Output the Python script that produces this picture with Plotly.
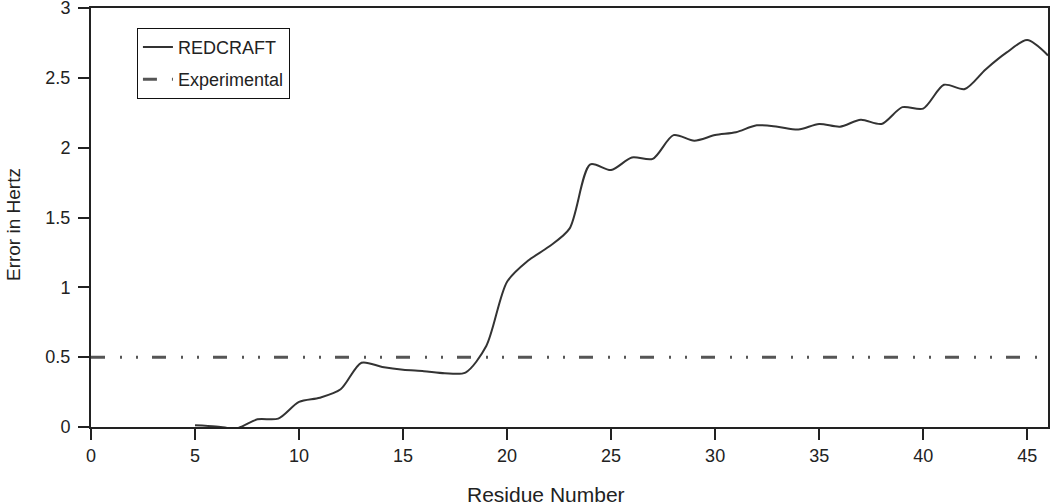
import plotly.graph_objects as go

# Data
residues = [5, 6, 7, 8, 9, 10, 11, 12, 13, 14, 15, 16, 17, 18, 19, 20, 21, 22, 23,
            24, 25, 26, 27, 28, 29, 30, 31, 32, 33, 34, 35, 36, 37, 38, 39, 40, 41,
            42, 43, 44, 45, 46]
redcraft_error = [0.012, 0.004, -0.01, 0.055, 0.06, 0.18, 0.21, 0.27, 0.46, 0.43,
                  0.41, 0.40, 0.385, 0.39, 0.58, 1.04, 1.19, 1.29, 1.42, 1.88, 1.84,
                  1.93, 1.92, 2.09, 2.05, 2.09, 2.11, 2.16, 2.15, 2.13, 2.17, 2.15,
                  2.20, 2.17, 2.29, 2.28, 2.45, 2.42, 2.56, 2.68, 2.77, 2.66]
experimental_x = [0, 46]
experimental_y = [0.5, 0.5]

x_ticks = [0, 5, 10, 15, 20, 25, 30, 35, 40, 45]
y_ticks = [0, 0.5, 1, 1.5, 2, 2.5, 3]

FONT = "Liberation Sans, Arial, sans-serif"
INK = "#222222"

fig = go.Figure()
fig.add_trace(go.Scatter(
    x=residues, y=redcraft_error, name="REDCRAFT", mode="lines",
    legendgroup="a",
    line=dict(color="#333333", width=2, shape="spline", smoothing=0.8),
))
fig.add_trace(go.Scatter(
    x=experimental_x, y=experimental_y, name="Experimental", mode="lines",
    legendgroup="b",
    line=dict(color="#555555", width=3, dash="14px,15px,2px,14px,2px,14px"),
))

fig.update_layout(
    width=1050, height=502,
    margin=dict(l=91, r=2, t=8, b=75),
    paper_bgcolor="white", plot_bgcolor="white",
    font=dict(family=FONT, size=18, color=INK),
    showlegend=True,
    legend=dict(
        x=0.048, y=0.953, xanchor="left", yanchor="top",
        bgcolor="white", bordercolor="#111111", borderwidth=1,
        font=dict(family=FONT, size=18, color=INK),
        itemwidth=30, tracegroupgap=6, traceorder="grouped",
    ),
    xaxis=dict(
        range=[0, 46], tickvals=x_ticks, ticks="outside", ticklen=11,
        tickwidth=1.5, tickcolor=INK, showline=True, linecolor=INK,
        linewidth=2, mirror=True, showgrid=False, zeroline=False,
        automargin=False, ticklabeloverflow="allow",
        tickfont=dict(size=18, family=FONT, color=INK),
    ),
    yaxis=dict(
        range=[0, 3], tickvals=y_ticks, ticks="outside", ticklen=11,
        tickwidth=1.5, tickcolor=INK, showline=True, linecolor=INK,
        linewidth=2, mirror=True, showgrid=False, zeroline=False,
        automargin=False, ticklabelstandoff=4, ticklabeloverflow="allow",
        tickfont=dict(size=18, family=FONT, color=INK),
    ),
    annotations=[
        dict(text="Residue Number", xref="paper", yref="paper",
             x=0.475, y=0, xanchor="center", yanchor="top", yshift=-54,
             showarrow=False, font=dict(family=FONT, size=21, color=INK)),
        dict(text="Error in Hertz", xref="paper", yref="paper",
             x=0, y=0.482, xanchor="center", yanchor="middle", xshift=-78,
             textangle=-90, showarrow=False,
             font=dict(family=FONT, size=19, color=INK)),
    ],
)

fig.write_html(
    "out.html",
    config={"displayModeBar": False},
    post_script="document.body.style.margin='0';document.body.style.overflow='hidden';",
)
